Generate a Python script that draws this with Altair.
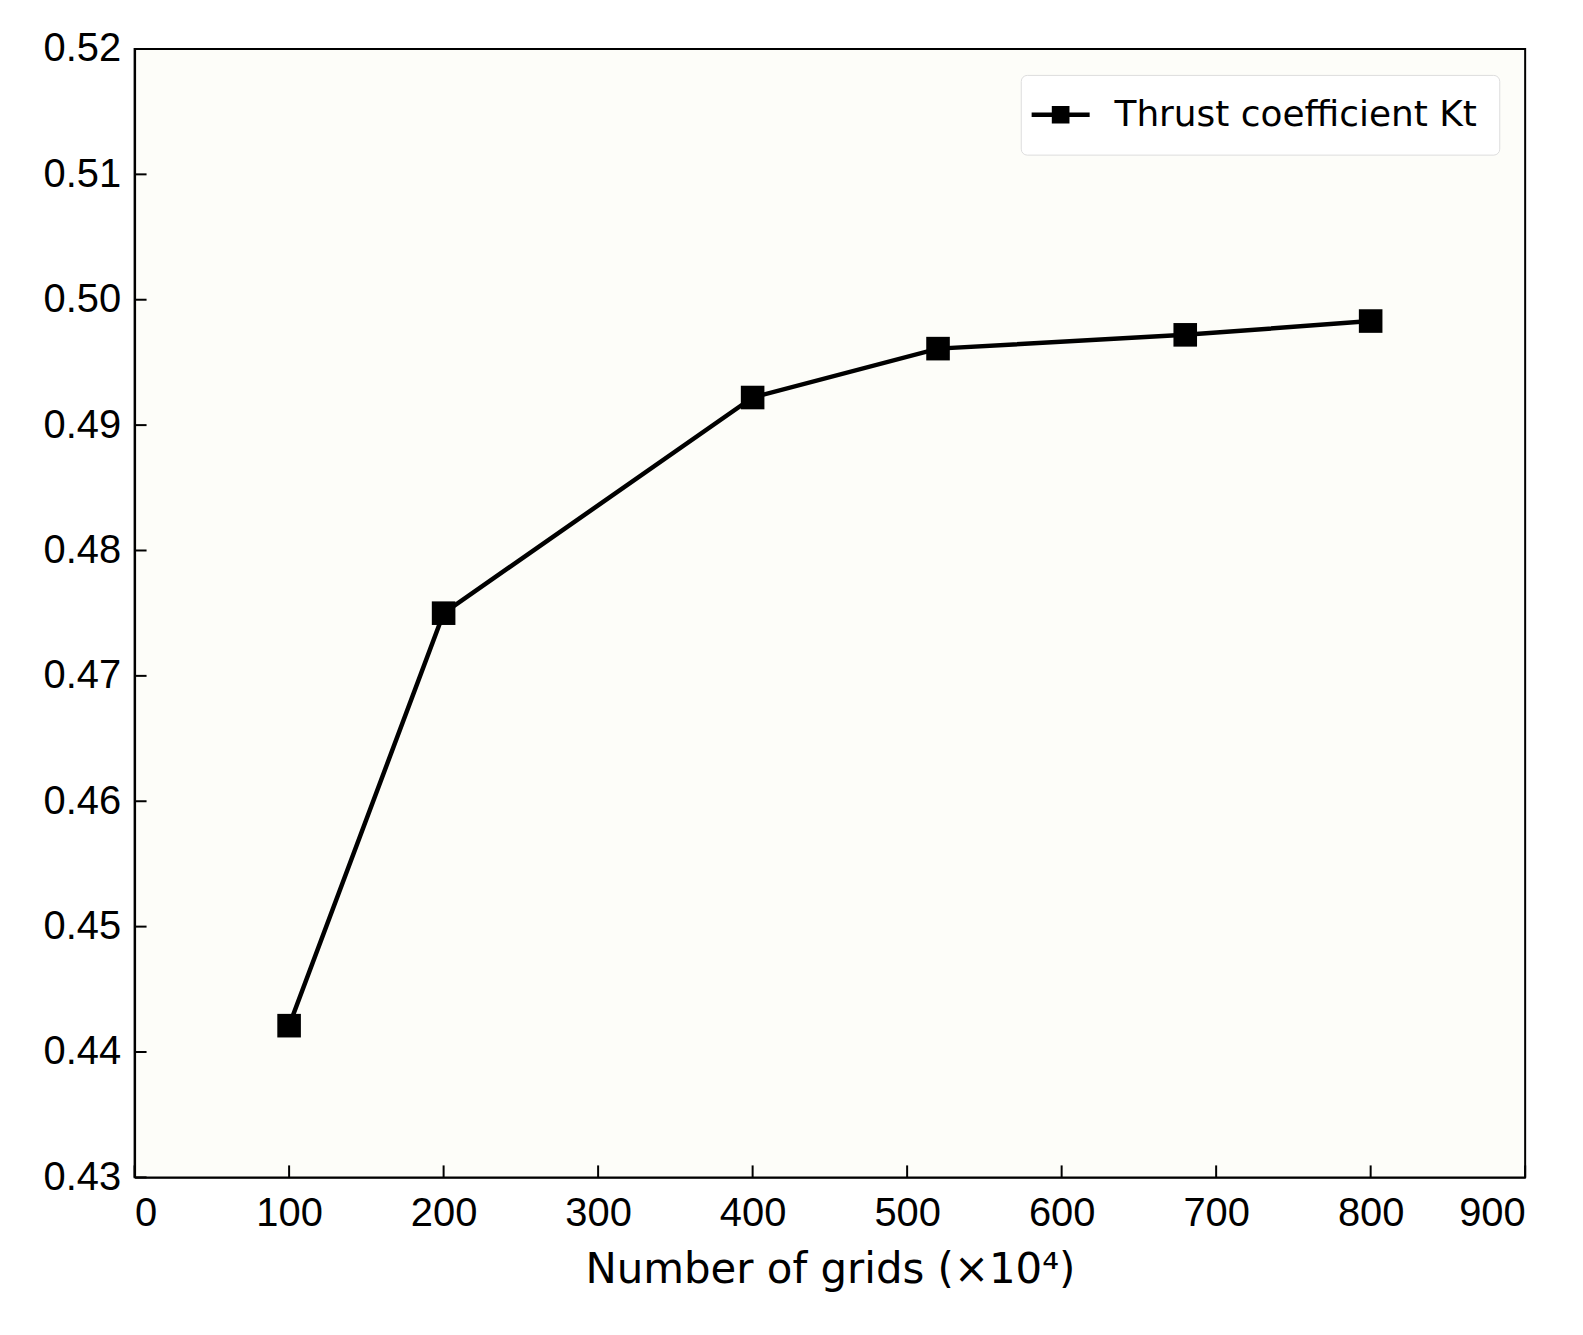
import pandas as pd
import altair as alt

# grid counts (x10^4) and thrust coefficient
grids = [100, 200, 400, 520, 680, 800]
kt = [0.4421, 0.4750, 0.4922, 0.4961, 0.4972, 0.4983]
series = ["Thrust coefficient Kt"] * len(grids)

x_ticks = [0, 100, 200, 300, 400, 500, 600, 700, 800, 900]
y_ticks = [0.43, 0.44, 0.45, 0.46, 0.47, 0.48, 0.49, 0.50, 0.51, 0.52]

df = pd.DataFrame({"grids": grids, "kt": kt, "series": series})
W, H = 1395, 1132
FONT = "Liberation Sans"

x_scale = alt.Scale(domain=[0, 900], nice=False)
y_scale = alt.Scale(domain=[0.43, 0.52], nice=False, zero=False)

base = alt.Chart(df).encode(
    x=alt.X("grids:Q", scale=x_scale,
            axis=alt.Axis(values=x_ticks, ticks=False, grid=False, format="d",
                          title="Number of grids (×10⁴)", labelPadding=16,
                          titlePadding=16, titleFont="DejaVu Sans",
                          titleFontSize=42, titleFontWeight="normal")),
    y=alt.Y("kt:Q", scale=y_scale,
            axis=alt.Axis(values=y_ticks, ticks=False, grid=False, format=".2f",
                          title=None, labelPadding=14)),
)

line = base.mark_line(color="black", strokeWidth=4.5)
points = base.mark_point(shape="square", filled=True, size=560, opacity=1).encode(
    color=alt.Color("series:N", scale=alt.Scale(range=["black"]),
                    legend=alt.Legend(title=None, orient="top-right", offset=26,
                                      symbolType="M-2.2,0L2.2,0M-0.5,-0.5H0.5V0.5H-0.5Z",
                                      symbolSize=700, symbolStrokeWidth=4.5,
                                      symbolStrokeColor="black", symbolFillColor="black",
                                      labelFont="DejaVu Sans", labelFontSize=36,
                                      labelOffset=36, padding=22, cornerRadius=6,
                                      strokeColor="#dddddd", fillColor="white",
                                      labelLimit=600))
)

xt = pd.DataFrame({"t": x_ticks})
yt = pd.DataFrame({"t": y_ticks})
xticks = alt.Chart(xt).mark_rule(color="black", strokeWidth=2).encode(
    x=alt.X("t:Q", scale=x_scale), y=alt.value(H), y2=alt.value(H - 12))
yticks = alt.Chart(yt).mark_rule(color="black", strokeWidth=2).encode(
    y=alt.Y("t:Q", scale=y_scale), x=alt.value(0), x2=alt.value(12))

chart = (xticks + yticks + line + points).properties(
    width=W, height=H, autosize=alt.AutoSizeParams(type="none"),
    padding={"left": 127, "top": 39, "right": 50, "bottom": 150},
    background="white",
).configure_view(stroke="black", strokeWidth=2, fill="#fdfdf9").configure_axis(
    domainColor="black", domainWidth=2, labelFont=FONT, labelFontSize=40,
    labelColor="black", titleColor="black")

chart.save("out.html", embed_options={"renderer": "svg", "actions": False})
